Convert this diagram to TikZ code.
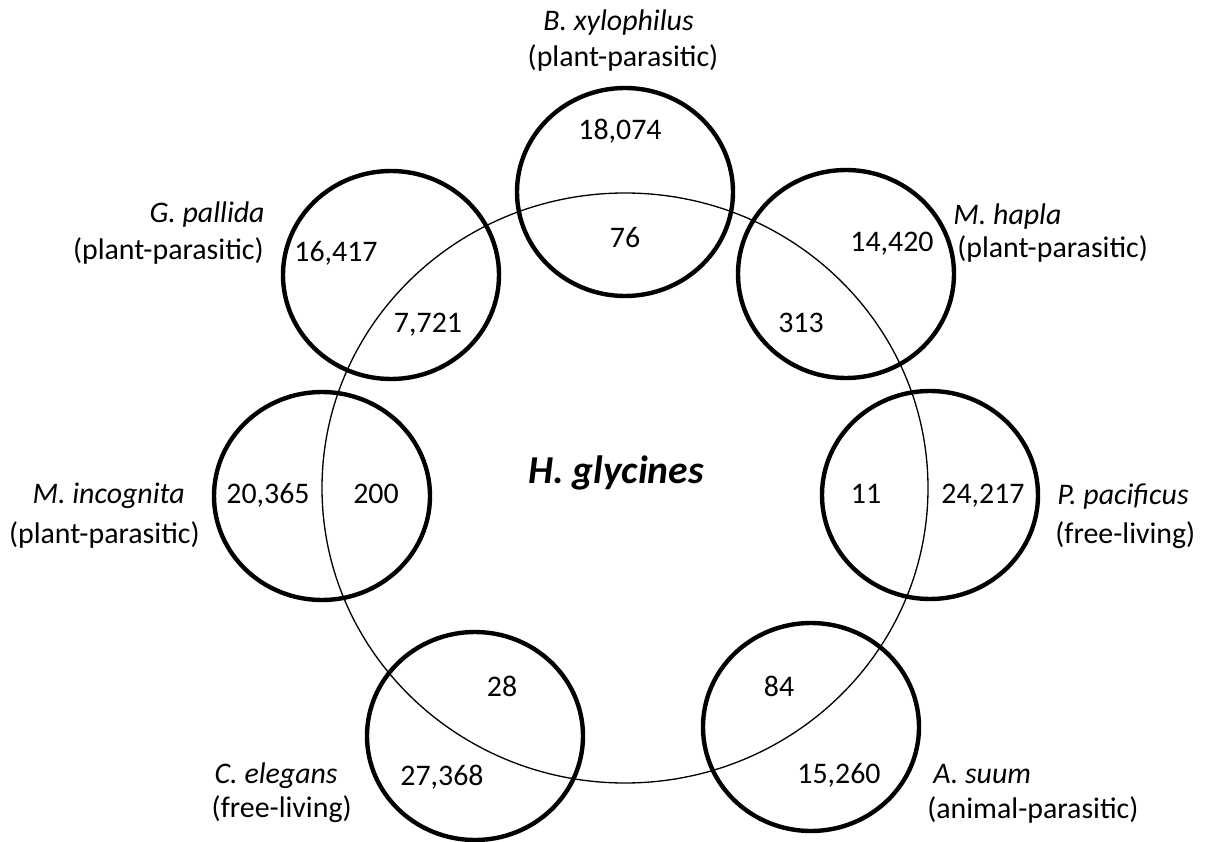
\documentclass[tikz,border=0pt]{standalone}
\usepackage{fontspec}
\setmainfont{Carlito}

\begin{document}
\begin{tikzpicture}[
  x=1cm, y=1cm,
  every node/.style={inner sep=0pt, font=\fontsize{17}{20}\selectfont},
  ring/.style={draw, line width=2.5pt},
  hub/.style={draw, line width=0.75pt},
  count/.style={anchor=base},
  species/.style={font=\fontsize{17}{20}\selectfont\itshape},
  title/.style={anchor=base, font=\fontsize{22.5}{27}\selectfont\bfseries\itshape}]

  \useasboundingbox (0,0) rectangle (24.10,16.82);

  % centres
  \coordinate (hg) at (12.50,7.06);
  \coordinate (bx) at (12.50,12.98);
  \coordinate (gp) at (7.82,11.32);
  \coordinate (mh) at (16.92,11.34);
  \coordinate (mi) at (6.44,6.90);
  \coordinate (pp) at (18.60,6.92);
  \coordinate (ce) at (9.50,2.10);
  \coordinate (as) at (16.22,2.28);

  % circles
  \draw[hub]  (hg) ellipse [x radius=6.06, y radius=5.90];
  \draw[ring] (bx) ellipse [x radius=2.16, y radius=2.08];
  \draw[ring] (gp) ellipse [x radius=2.16, y radius=2.08];
  \draw[ring] (mh) ellipse [x radius=2.16, y radius=2.08];
  \draw[ring] (mi) ellipse [x radius=2.16, y radius=2.08];
  \draw[ring] (pp) ellipse [x radius=2.16, y radius=2.08];
  \draw[ring] (ce) ellipse [x radius=2.16, y radius=2.08];
  \draw[ring] (as) ellipse [x radius=2.16, y radius=2.08];

  % centre label
  \node[title] (hgname) at (12.32,7.16) {H. glycines};

  % counts
  \node[count] (bxown) at (12.40,14.02) {18,074};
  \node[count] (bxhg)  at (12.50,11.86) {76};
  \node[count] (gpown) at (6.72,11.58)  {16,417};
  \node[count] (gphg)  at (8.56,10.16)  {7,721};
  \node[count] (mhown) at (17.84,11.78) {14,420};
  \node[count] (mhhg)  at (16.02,10.16) {313};
  \node[count] (miown) at (5.36,6.76)   {20,365};
  \node[count] (mihg)  at (7.52,6.76)   {200};
  \node[count] (pphg)  at (17.32,6.76)  {11};
  \node[count] (ppown) at (19.66,6.76)  {24,217};
  \node[count] (cehg)  at (10.04,2.90)  {28};
  \node[count] (ceown) at (8.84,1.12)   {27,368};
  \node[count] (ashg)  at (15.58,2.90)  {84};
  \node[count] (asown) at (16.78,1.16)  {15,260};

  % species and life style
  \node[species, anchor=base] (bxname) at (12.37,16.20) {B. xylophilus};
  \node[anchor=base]          (bxkind) at (12.46,15.48) {(plant-parasitic)};
  \node[species, anchor=base east] (gpname) at (5.30,12.36) {G. pallida};
  \node[anchor=base east]          (gpkind) at (5.28,11.62) {(plant-parasitic)};
  \node[species, anchor=base west] (mhname) at (19.06,12.32) {M. hapla};
  \node[anchor=base west]          (mhkind) at (19.14,11.66) {(plant-parasitic)};
  \node[species, anchor=base east] (miname) at (3.70,6.76) {M. incognita};
  \node[anchor=base east]          (mikind) at (4.00,5.96) {(plant-parasitic)};
  \node[species, anchor=base west] (ppname) at (21.14,6.72) {P. pacificus};
  \node[anchor=base west]          (ppkind) at (21.10,5.96) {(free-living)};
  \node[species, anchor=base east] (cename) at (6.76,1.16) {C. elegans};
  \node[anchor=base east]          (cekind) at (7.04,0.48) {(free-living)};
  \node[species, anchor=base west] (asname) at (18.66,1.16) {A. suum};
  \node[anchor=base west]          (askind) at (18.54,0.46) {(animal-parasitic)};
\end{tikzpicture}
\end{document}
